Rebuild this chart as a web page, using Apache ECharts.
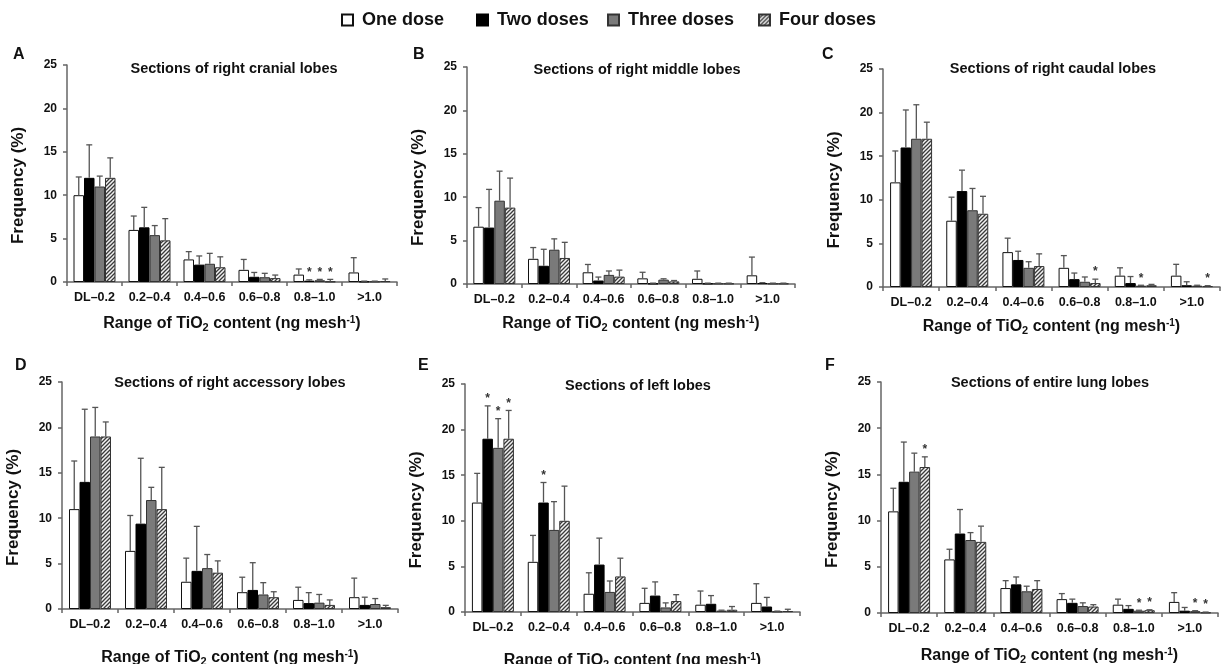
<!DOCTYPE html>
<html>
<head>
<meta charset="utf-8">
<script src="https://cdn.jsdelivr.net/npm/echarts@6/dist/echarts.min.js"></script>
<style>
html,body{margin:0;padding:0;background:#fff;}
#chart{width:1221px;height:664px;}
</style>
</head>
<body>
<div id="chart"></div>
<script>
// ---------- data ----------
const categories = ['DL–0.2', '0.2–0.4', '0.4–0.6', '0.6–0.8', '0.8–1.0', '>1.0'];
const seriesNames = ['One dose', 'Two doses', 'Three doses', 'Four doses'];
const panelLetters = ['A', 'B', 'C', 'D', 'E', 'F'];
const panelTitles = [
  'Sections of right cranial lobes',
  'Sections of right middle lobes',
  'Sections of right caudal lobes',
  'Sections of right accessory lobes',
  'Sections of left lobes',
  'Sections of entire lung lobes'
];
const yTicks = [0, 5, 10, 15, 20, 25];

// mean frequency (%) per dose group [one, two, three, four]
const valA = [
  [10.0, 6.0, 2.6, 1.4, 0.85, 1.1],
  [12.0, 6.3, 2.0, 0.6, 0.15, 0.05],
  [11.0, 5.4, 2.1, 0.55, 0.2, 0.05],
  [12.0, 4.8, 1.7, 0.45, 0.05, 0.1]
];
// upper end of error bar
const hiA = [
  [12.1, 7.6, 3.5, 2.6, 1.5, 2.8],
  [15.8, 8.6, 3.0, 1.1, 0.25, 0.1],
  [12.2, 6.5, 3.3, 1.0, 0.3, 0.1],
  [14.3, 7.3, 2.9, 0.8, 0.3, 0.35]
];
// significance markers [categoryIndex, doseIndex]
const starA = [[4, 1], [4, 2], [4, 3]];

const valB = [
  [6.6, 2.9, 1.35, 0.65, 0.6, 1.0],
  [6.5, 2.1, 0.4, 0.05, 0.05, 0.1],
  [9.6, 3.95, 1.05, 0.5, 0.05, 0.05],
  [8.8, 3.0, 0.85, 0.3, 0.05, 0.05]
];
const hiB = [
  [8.8, 4.2, 2.25, 1.35, 1.5, 3.1],
  [10.9, 4.0, 0.8, 0.1, 0.1, 0.15],
  [13.0, 5.2, 1.5, 0.6, 0.1, 0.1],
  [12.2, 4.8, 1.6, 0.4, 0.1, 0.1]
];
const starB = [];

const valC = [
  [12.0, 7.6, 4.0, 2.2, 1.3, 1.3],
  [16.0, 11.0, 3.1, 0.9, 0.45, 0.2],
  [17.0, 8.8, 2.2, 0.6, 0.15, 0.15],
  [17.0, 8.4, 2.4, 0.45, 0.2, 0.1]
];
const hiC = [
  [15.6, 10.3, 5.6, 3.6, 2.2, 2.6],
  [20.3, 13.4, 4.1, 1.6, 1.2, 0.6],
  [20.9, 11.3, 2.9, 1.15, 0.2, 0.2],
  [18.9, 10.4, 3.8, 0.9, 0.3, 0.15]
];
const starC = [[3, 3], [4, 2], [5, 3]];

const valD = [
  [11.0, 6.4, 3.0, 1.85, 1.0, 1.3],
  [14.0, 9.4, 4.2, 2.1, 0.65, 0.45],
  [19.0, 12.0, 4.5, 1.6, 0.7, 0.55],
  [19.0, 11.0, 4.0, 1.3, 0.45, 0.2]
];
const hiD = [
  [16.3, 10.3, 5.6, 3.5, 2.4, 3.4],
  [22.0, 16.6, 9.1, 5.1, 1.8, 1.3],
  [22.2, 13.4, 6.0, 2.9, 1.6, 1.15],
  [20.6, 15.6, 5.3, 1.9, 1.0, 0.4]
];
const starD = [];

const valE = [
  [12.0, 5.5, 2.0, 1.0, 0.8, 1.0],
  [19.0, 12.0, 5.2, 1.8, 0.9, 0.6],
  [18.0, 9.0, 2.2, 0.5, 0.15, 0.05],
  [19.0, 10.0, 3.9, 1.2, 0.25, 0.1]
];
const hiE = [
  [15.2, 8.4, 4.3, 2.6, 2.3, 3.1],
  [22.6, 14.2, 8.1, 3.3, 1.8, 1.6],
  [21.2, 12.1, 3.4, 1.0, 0.2, 0.1],
  [22.1, 13.8, 5.9, 1.9, 0.6, 0.3]
];
const starE = [[0, 1], [0, 2], [0, 3], [1, 1]];

const valF = [
  [11.0, 5.8, 2.7, 1.5, 0.9, 1.2],
  [14.2, 8.6, 3.1, 1.1, 0.45, 0.25],
  [15.3, 7.9, 2.35, 0.75, 0.25, 0.2],
  [15.8, 7.7, 2.6, 0.7, 0.3, 0.05]
];
const hiF = [
  [13.5, 6.9, 3.5, 2.1, 1.5, 2.2],
  [18.5, 11.2, 3.9, 1.5, 0.8, 0.6],
  [17.3, 8.7, 2.9, 1.1, 0.3, 0.25],
  [16.9, 9.4, 3.5, 0.9, 0.35, 0.1]
];
const starF = [[0, 3], [4, 2], [4, 3], [5, 2], [5, 3]];

const panelVals = [valA, valB, valC, valD, valE, valF];
const panelHis = [hiA, hiB, hiC, hiD, hiE, hiF];
const panelStars = [starA, starB, starC, starD, starE, starF];

// ---------- layout / style ----------
const FONT = '"Liberation Sans", Arial, Helvetica, sans-serif';
const grids = [
  {left: 67, top: 65, width: 330, height: 217},
  {left: 467, top: 67, width: 328, height: 217},
  {left: 883, top: 69, width: 337, height: 218},
  {left: 62, top: 382, width: 336, height: 227},
  {left: 465, top: 384, width: 335, height: 228},
  {left: 881, top: 382, width: 337, height: 231}
];
const letterPos = [[13, 47], [413, 47], [822, 47], [15, 358], [418, 358], [825, 358]];
const titlePos = [[234, 61], [637, 62], [1053, 61], [230, 375], [638, 378], [1050, 375]];
const xNameGap = [33, 31, 31, 40, 40, 34];
const legendLeft = [341, 476, 607, 758];
const BW = 10.5;

function hatchCanvas() {
  const c = document.createElement('canvas');
  c.width = 4; c.height = 4;
  const g = c.getContext('2d');
  g.fillStyle = '#f2f2f2';
  g.fillRect(0, 0, 4, 4);
  g.strokeStyle = '#3a3a3a';
  g.lineWidth = 1.3;
  g.beginPath();
  g.moveTo(0, 4); g.lineTo(4, 0);
  g.moveTo(-1, 1); g.lineTo(1, -1);
  g.moveTo(3, 5); g.lineTo(5, 3);
  g.stroke();
  return c;
}
const hatch = hatchCanvas();

const barStyles = [
  {color: '#ffffff', borderColor: '#111', borderWidth: 1},
  {color: '#000000', borderColor: '#000', borderWidth: 1},
  {color: '#7a7a7a', borderColor: '#333', borderWidth: 1},
  {color: {image: hatch, repeat: 'repeat'}, borderColor: '#333', borderWidth: 1}
];

const option = {
  animation: false,
  backgroundColor: '#fff',
  textStyle: {fontFamily: FONT},
  legend: seriesNames.map(function (n, i) {
    return {
      data: [n],
      left: legendLeft[i],
      top: 11,
      padding: 0,
      itemWidth: 11,
      itemHeight: 11,
      icon: 'rect',
      selectedMode: false,
      textStyle: {fontSize: 18, fontWeight: 'bold', color: '#111', fontFamily: FONT, padding: [0, 0, 0, 4]}
    };
  }),
  title: [],
  grid: [],
  xAxis: [],
  yAxis: [],
  series: []
};

const xName = '{a|Range of TiO}{s|2}{a| content (ng mesh}{p|-1}{a|)}';

for (let p = 0; p < 6; p++) {
  option.grid.push(Object.assign({outerBoundsMode: 'none', containLabel: false}, grids[p]));
  option.title.push({
    text: panelLetters[p], left: letterPos[p][0], top: letterPos[p][1], padding: 0,
    textStyle: {fontSize: 16, fontWeight: 'bold', color: '#111', fontFamily: FONT}
  });
  option.title.push({
    text: panelTitles[p], left: titlePos[p][0], top: titlePos[p][1], padding: 0, textAlign: 'center',
    textStyle: {fontSize: 14.5, fontWeight: 'bold', color: '#111', fontFamily: FONT}
  });
  option.xAxis.push({
    type: 'category', gridIndex: p, data: categories,
    axisLine: {lineStyle: {color: '#666', width: 1.5}},
    axisTick: {show: true, length: 4, lineStyle: {color: '#666', width: 1.5}},
    axisLabel: {fontSize: 12.5, fontWeight: 'bold', color: '#111', margin: 9, interval: 0, fontFamily: FONT},
    name: xName, nameLocation: 'middle', nameGap: xNameGap[p],
    nameTextStyle: {
      color: '#111', fontFamily: FONT,
      rich: {
        a: {fontSize: 16, fontWeight: 'bold', color: '#111', lineHeight: 18, fontFamily: FONT},
        s: {fontSize: 11, fontWeight: 'bold', color: '#111', verticalAlign: 'bottom', lineHeight: 18, fontFamily: FONT},
        p: {fontSize: 10, fontWeight: 'bold', color: '#111', verticalAlign: 'top', lineHeight: 14, fontFamily: FONT}
      }
    }
  });
  option.yAxis.push({
    type: 'value', gridIndex: p, min: yTicks[0], max: yTicks[yTicks.length - 1], interval: 5,
    splitLine: {show: false},
    axisLine: {show: true, lineStyle: {color: '#666', width: 1.5}},
    axisTick: {show: true, length: 4, lineStyle: {color: '#666', width: 1.5}},
    axisLabel: {fontSize: 12, fontWeight: 'bold', color: '#111', margin: 10, fontFamily: FONT},
    name: 'Frequency (%)', nameLocation: 'middle', nameGap: 40,
    nameTextStyle: {fontSize: 17, fontWeight: 'bold', color: '#111', fontFamily: FONT, padding: [0, 24, 0, 0]}
  });

  const vals = panelVals[p], his = panelHis[p], stars = panelStars[p];
  for (let s = 0; s < 4; s++) {
    option.series.push({
      type: 'bar', name: seriesNames[s], xAxisIndex: p, yAxisIndex: p,
      data: vals[s], barWidth: BW, barGap: '0%',
      itemStyle: barStyles[s], silent: true, z: 2
    });
  }
  const rows = [];
  for (let s = 0; s < 4; s++) {
    for (let c = 0; c < categories.length; c++) {
      const st = stars.some(function (q) { return q[0] === c && q[1] === s; }) ? 1 : 0;
      rows.push([c, vals[s][c], his[s][c], s, st]);
    }
  }
  option.series.push({
    type: 'custom', xAxisIndex: p, yAxisIndex: p, z: 5, silent: true,
    data: rows, encode: {x: 0, y: 2},
    renderItem: function (params, api) {
      const cat = api.value(0), v = api.value(1), hi = api.value(2), s = api.value(3), star = api.value(4);
      const base = api.coord([cat, 0]);
      const cx = base[0] + (s - 1.5) * BW;
      const yv = api.coord([cat, v])[1];
      const yh = api.coord([cat, hi])[1];
      const children = [];
      if (hi > v) {
        children.push({type: 'line', shape: {x1: cx, y1: yv, x2: cx, y2: yh}, style: {stroke: '#555', lineWidth: 1.3}});
        children.push({type: 'line', shape: {x1: cx - 3, y1: yh, x2: cx + 3, y2: yh}, style: {stroke: '#555', lineWidth: 1.3}});
      }
      if (star) {
        children.push({type: 'text', style: {text: '*', x: cx, y: yh - 1, align: 'center', verticalAlign: 'bottom',
          font: 'bold 12px ' + FONT, fill: '#333'}});
      }
      return {type: 'group', children: children};
    }
  });
}

const chart = echarts.init(document.getElementById('chart'), null, {renderer: 'canvas'});
chart.setOption(option);
</script>
</body>
</html>
